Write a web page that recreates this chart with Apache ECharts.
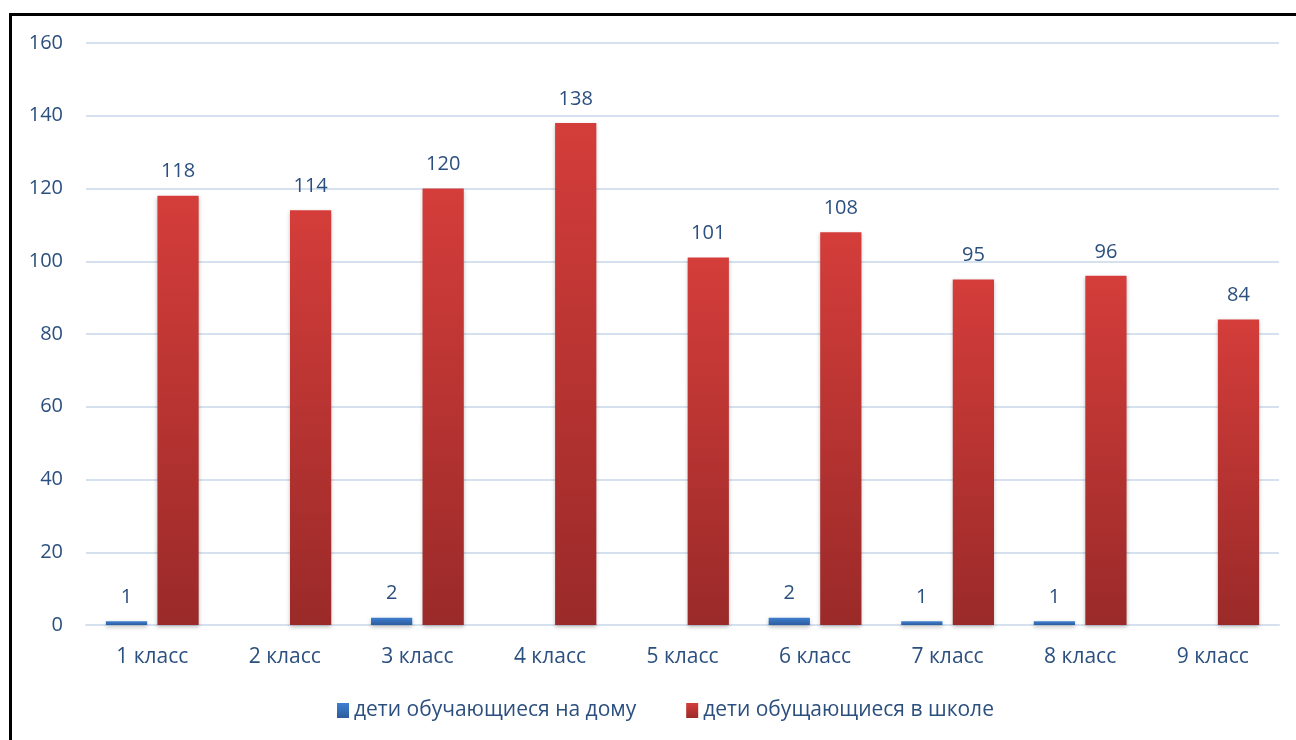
<!DOCTYPE html>
<html><head><meta charset="utf-8">
<script src="https://cdn.jsdelivr.net/npm/echarts@6/dist/echarts.min.js"></script>
<style>
html,body{margin:0;padding:0;background:#fff;overflow:hidden;}
#c{position:absolute;left:0;top:0;width:1296px;height:740px;}
#b{position:absolute;left:9px;top:13px;width:1300px;height:800px;border:3px solid #000;box-sizing:border-box;pointer-events:none;}
</style></head>
<body>
<div id="c"></div><div id="b"></div>
<script>
const categories = ['1 класс','2 класс','3 класс','4 класс','5 класс','6 класс','7 класс','8 класс','9 класс'];
const homeValues = [1, 0, 2, 0, 0, 2, 1, 1, 0];
const schoolValues = [118, 114, 120, 138, 101, 108, 95, 96, 84];
const seriesNames = ['дети обучающиеся на дому', 'дети обущающиеся в школе'];
const yTicks = [0, 20, 40, 60, 80, 100, 120, 140, 160];

const textColor = '#2b4f7e';
const font = 'Open Sans';
const chart = echarts.init(document.getElementById('c'));
const blueGrad = new echarts.graphic.LinearGradient(0,0,0,1,[{offset:0,color:'#3f7fd0'},{offset:1,color:'#2c5c9e'}]);
const redGrad = new echarts.graphic.LinearGradient(0,0,0,1,[{offset:0,color:'#d43d3a'},{offset:1,color:'#9a2a29'}]);
chart.setOption({
  animation:false,
  textStyle:{fontFamily:font},
  grid:{left:86,right:17,top:43,bottom:115},
  legend:{
    bottom:14,left:332,itemWidth:12,itemHeight:15,itemGap:50,icon:'rect',
    textStyle:{color:textColor,fontSize:21,fontFamily:font},
    data:seriesNames
  },
  xAxis:{
    type:'category',data:categories,
    axisLine:{show:true,lineStyle:{color:'#d6e1ef',width:2}},
    axisTick:{show:false},
    axisLabel:{color:textColor,fontSize:21,margin:22,fontFamily:font}
  },
  yAxis:{
    type:'value',min:yTicks[0],max:yTicks[yTicks.length-1],interval:20,
    axisLine:{show:false},axisTick:{show:false},
    axisLabel:{color:textColor,fontSize:20,margin:23,fontFamily:font},
    splitLine:{lineStyle:{color:'#d6e1ef',width:2}}
  },
  series:[
    {name:seriesNames[0],type:'bar',data:homeValues,barGap:'25%',barCategoryGap:'30%',
     itemStyle:{color:blueGrad,shadowBlur:4,shadowColor:'rgba(0,0,0,0.25)',shadowOffsetY:2},
     label:{show:true,position:'top',distance:14,color:textColor,fontSize:20,fontFamily:font,
       formatter:p=>p.value>0?p.value:''}},
    {name:seriesNames[1],type:'bar',data:schoolValues,
     itemStyle:{color:redGrad,shadowBlur:4,shadowColor:'rgba(0,0,0,0.25)',shadowOffsetY:2},
     label:{show:true,position:'top',distance:14,color:textColor,fontSize:20,fontFamily:font}}
  ]
});
</script>
</body></html>
